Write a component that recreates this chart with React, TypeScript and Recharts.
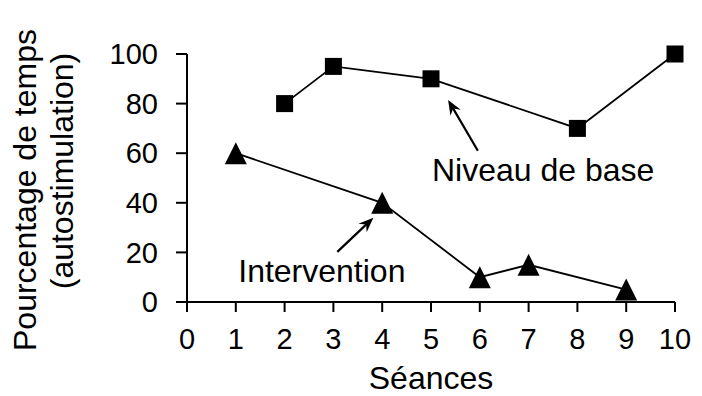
import { LineChart, Line, XAxis, YAxis, ReferenceLine, ReferenceDot } from 'recharts'

const baseX = [2, 3, 5, 8, 10]
const baseY = [80, 95, 90, 70, 100]
const interX = [1, 4, 6, 7, 9]
const interY = [60, 40, 10, 15, 5]
const xTicks = [0, 1, 2, 3, 4, 5, 6, 7, 8, 9, 10]
const yTicks = [0, 20, 40, 60, 80, 100]

const baseData = baseX.map((x, i) => ({ x, y: baseY[i] }))
const interData = interX.map((x, i) => ({ x, y: interY[i] }))

const FONT = '"Liberation Sans", Arial, sans-serif'
const LABEL_SIZE = 32

function Square(p: any) {
  const { cx, cy } = p
  if (cx == null || cy == null) return null
  return <rect x={cx - 8.5} y={cy - 8.5} width={17} height={17} fill="#000" />
}

function Triangle(p: any) {
  const { cx, cy } = p
  if (cx == null || cy == null) return null
  return <polygon points={`${cx},${cy - 11} ${cx - 11},${cy + 11} ${cx + 11},${cy + 11}`} fill="#000" />
}

function Arrow(p: any) {
  const { x1, y1, x2, y2 } = p
  const a = Math.atan2(y2 - y1, x2 - x1)
  const len = 15, half = 6
  const bx = x2 - len * Math.cos(a), by = y2 - len * Math.sin(a)
  const nx = -Math.sin(a), ny = Math.cos(a)
  const pts = `${x2},${y2} ${bx + nx * half},${by + ny * half} ${x2 - 10 * Math.cos(a)},${y2 - 10 * Math.sin(a)} ${bx - nx * half},${by - ny * half}`
  return (
    <g>
      <line x1={x1} y1={y1} x2={x2 - 9 * Math.cos(a)} y2={y2 - 9 * Math.sin(a)} stroke="#000" strokeWidth={2.2} />
      <polygon points={pts} fill="#000" />
    </g>
  )
}

function note(text: string) {
  return (p: any) => (
    <text x={p.cx} y={p.cy} fontSize={LABEL_SIZE} fontFamily={FONT} fill="#000">{text}</text>
  )
}

function YLabel() {
  return (
    <g fontFamily={FONT} fontSize={LABEL_SIZE} fill="#000" textAnchor="middle">
      <text x={36} y={190} transform="rotate(-90 36 190)">Pourcentage de temps</text>
      <text x={73} y={171} transform="rotate(-90 73 171)">(autostimulation)</text>
    </g>
  )
}

function XLabel({ viewBox }: any) {
  return (
    <text x={viewBox.x + viewBox.width / 2} y={389} textAnchor="middle" fontFamily={FONT} fontSize={LABEL_SIZE} fill="#000">
      Séances
    </text>
  )
}

export default function App() {
  return (
    <div style={{ position: 'absolute', left: 0, top: 0, background: '#fff' }}>
      <LineChart width={702} height={396} margin={{ top: 54, right: 27, left: 0, bottom: 0 }}>
        <XAxis
          type="number"
          dataKey="x"
          domain={[0, 10]}
          ticks={xTicks}
          interval={0}
          height={94}
          tickSize={10}
          tickMargin={16}
          axisLine={{ stroke: '#000', strokeWidth: 2 }}
          tickLine={{ stroke: '#000', strokeWidth: 2 }}
          tick={{ fontSize: 29, fontFamily: FONT, fill: '#000' }}
          label={{ content: XLabel }}
        />
        <YAxis
          type="number"
          dataKey="y"
          domain={[0, 100]}
          ticks={yTicks}
          interval={0}
          width={187}
          tickSize={11}
          tickMargin={18}
          axisLine={{ stroke: '#000', strokeWidth: 2 }}
          tickLine={{ stroke: '#000', strokeWidth: 2 }}
          tick={{ fontSize: 29, fontFamily: FONT, fill: '#000' }}
          label={{ content: YLabel }}
        />
        <Line data={baseData} dataKey="y" stroke="#000" strokeWidth={1.8} dot={<Square />} activeDot={false} isAnimationActive={false} />
        <Line data={interData} dataKey="y" stroke="#000" strokeWidth={1.8} dot={<Triangle />} activeDot={false} isAnimationActive={false} />
        <ReferenceLine segment={[{ x: 5.96, y: 61 }, { x: 5.35, y: 81.5 }]} shape={Arrow} />
        <ReferenceLine segment={[{ x: 3.08, y: 20.2 }, { x: 3.82, y: 34 }]} shape={Arrow} />
        <ReferenceDot x={5.02} y={48.8} r={0} shape={note('Niveau de base')} />
        <ReferenceDot x={1.05} y={8.1} r={0} shape={note('Intervention')} />
      </LineChart>
    </div>
  )
}
